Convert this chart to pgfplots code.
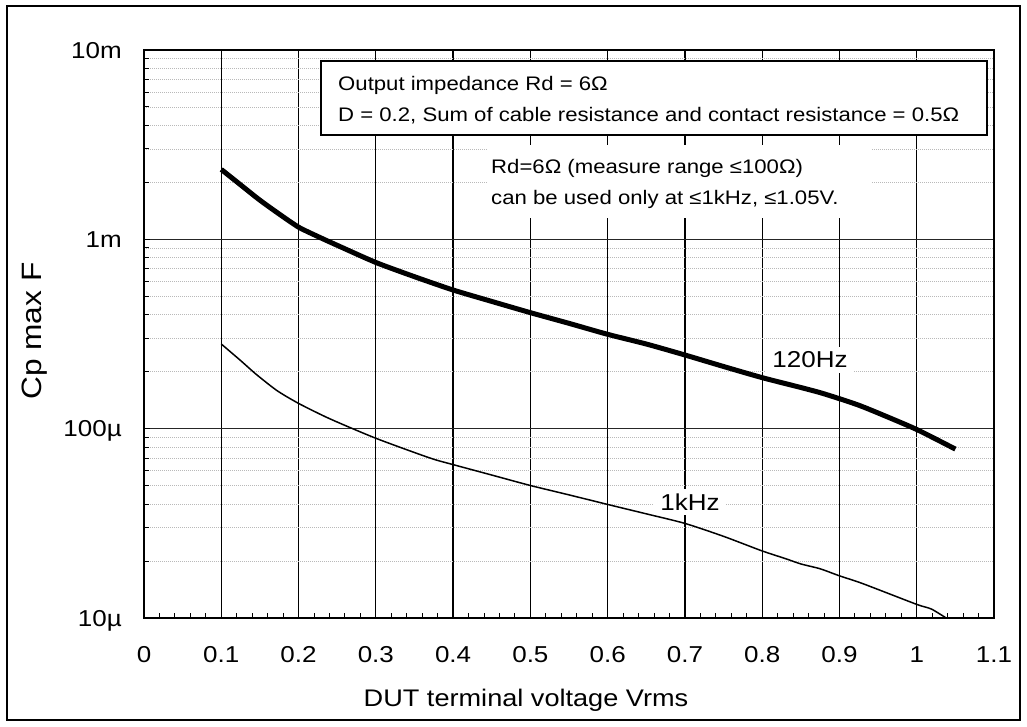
\documentclass[border=0pt]{standalone}
\usepackage{fontspec}
\setmainfont{Liberation Sans}[FakeStretch=1.13]
\usepackage{pgfplots}
\pgfplotsset{compat=1.18}

\pgfplotstableread{
x      c
0.100  2.34e-3
0.125  1.94e-3
0.150  1.61e-3
0.175  1.36e-3
0.200  1.16e-3
0.225  1.035e-3
0.250  0.93e-3
0.300  0.755e-3
0.350  0.635e-3
0.400  0.54e-3
0.450  0.47e-3
0.500  0.41e-3
0.550  0.36e-3
0.600  0.315e-3
0.650  0.28e-3
0.700  0.245e-3
0.750  0.213e-3
0.800  0.186e-3
0.850  0.165e-3
0.875  0.155e-3
0.900  0.144e-3
0.925  0.133e-3
0.950  0.121e-3
1.000  0.099e-3
1.050  0.078e-3
}\hundredtwenty

\pgfplotstableread{
x      c
0.100  0.280e-3
0.125  0.229e-3
0.145  0.194e-3
0.172  0.159e-3
0.200  0.136e-3
0.240  0.113e-3
0.300  0.0890e-3
0.370  0.0700e-3
0.400  0.0646e-3
0.450  0.0569e-3
0.500  0.0501e-3
0.550  0.0447e-3
0.600  0.0398e-3
0.650  0.0355e-3
0.700  0.0316e-3
0.750  0.0270e-3
0.800  0.0226e-3
0.830  0.0206e-3
0.850  0.0193e-3
0.875  0.0182e-3
0.900  0.0167e-3
0.930  0.0152e-3
1.000  0.0118e-3
1.020  0.0111e-3
1.050  0.0093e-3
}\onekhz

\begin{document}
\begin{tikzpicture}[x=1pt,y=1pt]
\path[use as bounding box] (0,0) rectangle (1027,727);
\fill[white] (0,0) rectangle (1027,727);
\draw[line width=2pt] (7,7) rectangle (1020,721);
\begin{axis}[
  at={(144pt,109pt)}, anchor=south west,
  scale only axis, width=850pt, height=568pt,
  xmin=0, xmax=1.1,
  ymode=log, ymin=1e-5, ymax=1e-2,
  xtick={0,0.1,0.2,0.3,0.4,0.5,0.6,0.7,0.8,0.9,1.0,1.1},
  xticklabels={0,0.1,0.2,0.3,0.4,0.5,0.6,0.7,0.8,0.9,1,1.1},
  minor x tick num=4,
  ytick={1e-5,1e-4,1e-3,1e-2},
  yticklabels={10µ,100µ,1m,10m},
  minor ytick={2e-5,3e-5,4e-5,5e-5,6e-5,7e-5,8e-5,9e-5,
               2e-4,3e-4,4e-4,5e-4,6e-4,7e-4,8e-4,9e-4,
               2e-3,3e-3,4e-3,5e-3,6e-3,7e-3,8e-3,9e-3},
  tick pos=left, tick align=inside,
  major tick length=6pt, minor tick length=5pt,
  every tick/.style={black, line width=1pt},
  xmajorgrids, ymajorgrids, yminorgrids,
  x grid style={black, line width=1.3pt},
  major grid style={black!85, line width=1.6pt},
  minor grid style={gray!55, line width=0.9pt, dash pattern=on 1pt off 1pt},
  axis line style={line width=1.8pt},
  ticklabel style={font=\fontsize{23}{27}\selectfont, inner sep=0pt},
  xticklabel style={anchor=base, yshift=-44pt},
  yticklabel style={anchor=base east, xshift=-22pt, yshift=-8.2pt},
  clip=true,
]
\addplot[black, line width=5pt, line join=round, smooth, tension=0.4] table[x=x, y=c] {\hundredtwenty};
\addplot[black, line width=1.5pt, line join=round, smooth, tension=0.4] table[x=x, y=c] {\onekhz};
\end{axis}

% annotation box 1
\draw[line width=2pt, fill=white] (321,592) rectangle (987,666);
\node[anchor=base west, inner sep=0pt, font=\fontsize{19.6}{23}\selectfont] at (338,636) {Output impedance Rd = 6Ω};
\node[anchor=base west, inner sep=0pt, font=\fontsize{19.6}{23}\selectfont] at (338,605) {D = 0.2, Sum of cable resistance and contact resistance = 0.5Ω};

% annotation 2
\fill[white] (488,509) rectangle (871,582);
\node[anchor=base west, inner sep=0pt, font=\fontsize{19.6}{23}\selectfont] at (491,553.5) {Rd=6Ω (measure range ≤100Ω)};
\node[anchor=base west, inner sep=0pt, font=\fontsize{19.6}{23}\selectfont] at (491,522) {can be used only at ≤1kHz, ≤1.05V.};

% curve labels
\node[fill=white, inner xsep=6pt, inner ysep=5pt, font=\fontsize{23}{27}\selectfont] at (810,367) {120Hz};
\node[fill=white, inner xsep=6pt, inner ysep=5pt, font=\fontsize{23}{27}\selectfont] at (690,225) {1kHz};

% axis labels
\node[anchor=base, inner sep=0pt, font=\fontsize{24}{28}\selectfont] at (526,20) {DUT terminal voltage Vrms};
\node[anchor=base, rotate=90, inner sep=0pt, font=\fontsize{28}{32}\selectfont] at (41,396) {Cp max F};
\end{tikzpicture}
\end{document}
